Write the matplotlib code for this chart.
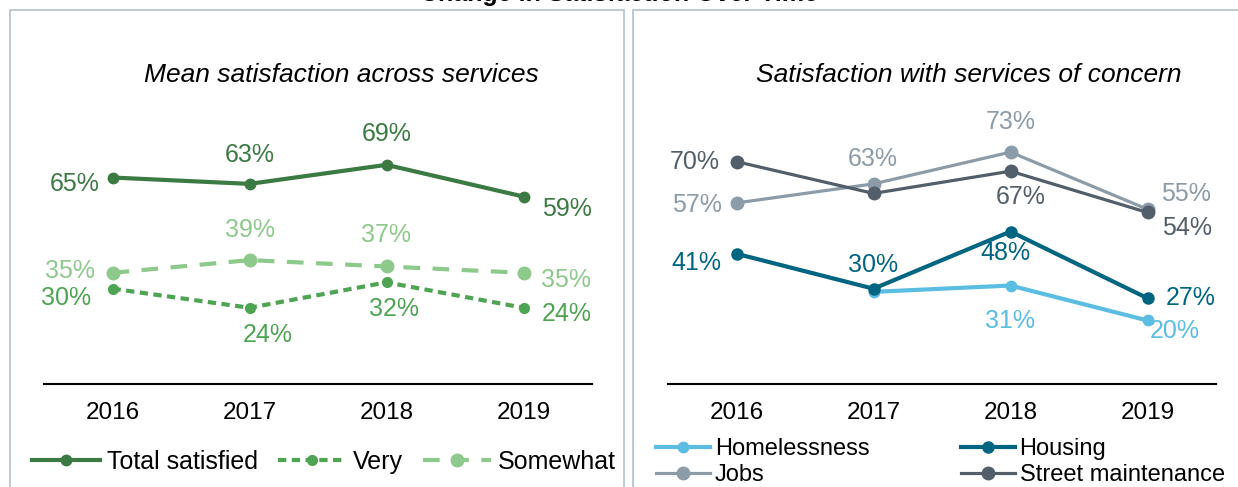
import matplotlib.pyplot as plt
from matplotlib.patches import Rectangle

plt.rcParams['font.family'] = ['Liberation Sans', 'DejaVu Sans']

# survey years and results (percent satisfied)
years = ['2016', '2017', '2018', '2019']

total_satisfied = [65, 63, 69, 59]
very_satisfied = [30, 24, 32, 24]
somewhat_satisfied = [35, 39, 37, 35]

homelessness = [None, 29, 31, 20]
housing = [41, 30, 48, 27]
jobs = [57, 63, 73, 55]
street_maintenance = [70, 60, 67, 54]

W, H = 1238, 487
fig = plt.figure(figsize=(W / 100, H / 100), dpi=100)


def fx(px):
    return px / W


def fy(py):
    return 1 - py / H


# panel frames
frame_col = '#B9C6D0'
fig.patches.append(Rectangle((fx(10), fy(540)), fx(614), fy(10) - fy(540),
                             transform=fig.transFigure, fill=False,
                             edgecolor=frame_col, linewidth=1.3))
fig.patches.append(Rectangle((fx(633), fy(540)), fx(640), fy(10) - fy(540),
                             transform=fig.transFigure, fill=False,
                             edgecolor=frame_col, linewidth=1.3))

fig.text(0.5, fy(0.5), 'Change in Satisfaction Over Time', ha='center',
         va='baseline', fontsize=18, fontweight='bold')

ax1 = fig.add_axes([fx(44), fy(384), fx(548), fy(114) - fy(384)])
ax2 = fig.add_axes([fx(668), fy(384), fx(548), fy(114) - fy(384)])

for ax in (ax1, ax2):
    ax.set_xlim(-0.5, 3.5)
    ax.set_ylim(0, 85)
    for s in ('top', 'left', 'right'):
        ax.spines[s].set_visible(False)
    ax.spines['bottom'].set_color('black')
    ax.spines['bottom'].set_linewidth(1.5)
    ax.set_yticks([])
    ax.set_xticks(range(len(years)))
    ax.set_xticklabels(years, fontsize=17.5)
    ax.tick_params(axis='x', length=0, pad=13)
    ax.patch.set_alpha(0)

fig.text(fx(341), fy(75), 'Mean satisfaction across services', ha='center',
         va='center', fontsize=19, style='italic')
fig.text(fx(969), fy(75), 'Satisfaction with services of concern', ha='center',
         va='center', fontsize=19, style='italic')

x = list(range(len(years)))

# left panel
c_total, c_very, c_some = '#3B7A43', '#4EA452', '#8DC98B'
ax1.plot(x, somewhat_satisfied, color=c_some, lw=3, ls=(0, (4, 3)),
         marker='o', ms=9, label='Somewhat')
ax1.plot(x, very_satisfied, color=c_very, lw=3, ls=(0, (2, 1.3)),
         marker='o', ms=7, label='Very')
ax1.plot(x, total_satisfied, color=c_total, lw=3, marker='o', ms=7.5,
         label='Total satisfied')


def label(ax, xs, vals, offsets, color):
    for xi, v, off in zip(xs, vals, offsets):
        if v is None or off is None:
            continue
        ax.annotate(f'{v}%', (xi, v), xytext=off, textcoords='offset pixels',
                    ha='center', va='center', fontsize=18, color=color)


label(ax1, x, total_satisfied, [(-38, -6), (0, 29), (0, 31), (43, -12)], c_total)
label(ax1, x, somewhat_satisfied, [(-42, 2), (0, 30), (0, 31), (43, -7)], c_some)
label(ax1, x, very_satisfied, [(-46, -9), (18, -27), (8, -27), (43, -6)], c_very)

h, l = ax1.get_legend_handles_labels()
order = [2, 1, 0]
ax1.legend([h[i] for i in order], [l[i] for i in order], ncol=3,
           loc='center left', bbox_to_anchor=(fx(32), fy(462)),
           bbox_transform=fig.transFigure, frameon=False, fontsize=18,
           handlelength=2.7, handletextpad=0.3, columnspacing=0.8,
           borderpad=0, borderaxespad=0)

# right panel
c_home, c_house, c_jobs, c_street = '#5BBDE1', '#006581', '#8B9BA8', '#525E6A'
ax2.plot(x, homelessness, color=c_home, lw=3, marker='o', ms=7.5,
         label='Homelessness')
ax2.plot(x, jobs, color=c_jobs, lw=2.3, marker='o', ms=9, label='Jobs')
ax2.plot(x, street_maintenance, color=c_street, lw=2.3, marker='o', ms=9,
         label='Street maintenance')
ax2.plot(x, housing, color=c_house, lw=3, marker='o', ms=8, label='Housing')

label(ax2, x, street_maintenance, [(-42, 0), None, (10, -26), (40, -16)], c_street)
label(ax2, x, jobs, [(-40, -2), (-1, 25), (0, 30), (38, 15)], c_jobs)
label(ax2, x, housing, [(-40, -9), (0, 24), (-5, -21), (43, 0)], c_house)
label(ax2, x, homelessness, [None, None, (0, -35), (27, -11)], c_home)

h, l = ax2.get_legend_handles_labels()
order = [0, 1, 3, 2]
ax2.legend([h[i] for i in order], [l[i] for i in order], ncol=2,
           loc='center left', bbox_to_anchor=(fx(656), fy(462)),
           bbox_transform=fig.transFigure, frameon=False, fontsize=17,
           handlelength=2.3, handletextpad=0.2, columnspacing=3.85,
           labelspacing=0.15, borderpad=0, borderaxespad=0)

fig.savefig('out.png', dpi=100)
